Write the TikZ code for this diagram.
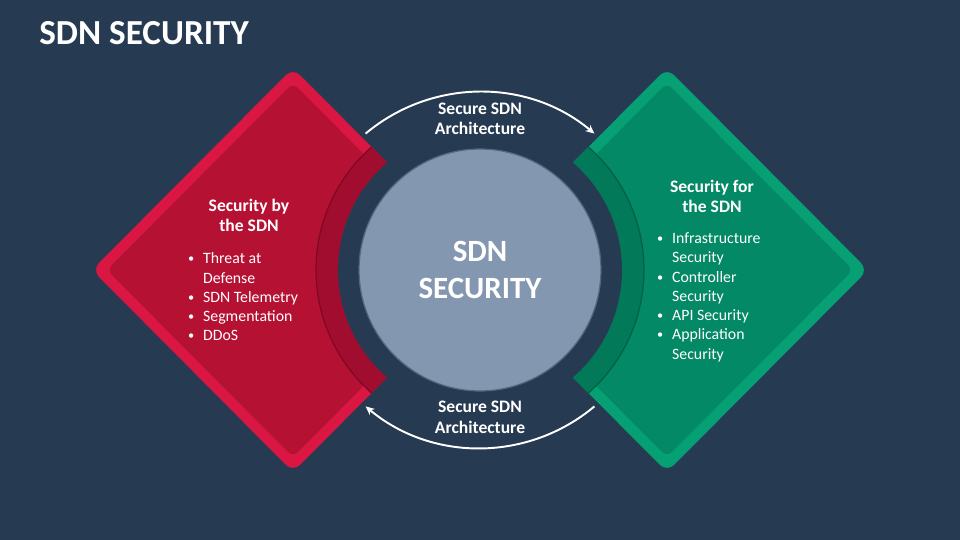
\documentclass[tikz,border=0pt]{standalone}
\usepackage{fontspec}
\setmainfont{Carlito}
\usetikzlibrary{arrows.meta}
\definecolor{bg}{RGB}{38,58,82}
\definecolor{circfill}{RGB}{132,151,176}
\definecolor{circline}{RGB}{86,101,122}
\definecolor{redrim}{RGB}{218,22,66}
\definecolor{redin}{RGB}{181,17,51}
\definecolor{redband}{RGB}{161,13,47}
\definecolor{redshade}{RGB}{128,8,36}
\definecolor{greenrim}{RGB}{6,160,116}
\definecolor{greenin}{RGB}{3,137,101}
\definecolor{greenband}{RGB}{2,121,88}
\definecolor{greenshade}{RGB}{1,96,70}
\newcommand{\mybul}{\makebox[9pt][l]{\hspace{0.5pt}\raisebox{0.6pt}{\fontsize{7}{7}\selectfont\textbullet}}}
\newcommand{\myind}{\hspace*{9pt}}
\tikzset{
  arr/.style={draw=white, line width=1.1pt, -{Stealth[length=5pt,width=4.5pt]}},
  lbl/.style={text=white, align=center, inner sep=0pt, font=\fontsize{10}{11.7}\selectfont\bfseries},
  head/.style={text=white, align=center, inner sep=0pt, font=\fontsize{10}{11.6}\selectfont\bfseries},
  blist/.style={text=white, align=left, inner sep=0pt, anchor=north west, font=\fontsize{9}{10.95}\selectfont},
}
\begin{document}
\begin{tikzpicture}[x=0.02cm,y=-0.02cm]
\fill[bg] (0,0) rectangle (960,540);
\useasboundingbox (0,0) rectangle (960,540);
\coordinate (c) at (480,270);

% red shape (left)
\begin{scope}
  \path[clip, rounded corners=0.2cm] (92,270)--(293,68)--(494,270)--(293,472)--cycle;
  \fill[redrim] (0,0) rectangle (960,540);
  \fill[redin, rounded corners=0.14cm] (107,270)--(293,83)--(479,270)--(293,457)--cycle;
  \fill[redband, even odd rule] (c) circle[radius=3.28cm] (c) circle[radius=2.84cm];
  \draw[redshade, line width=0.7pt] (c) circle[radius=3.28cm];
\end{scope}

% green shape (right), mirror image
\begin{scope}[shift={(960,0)}, xscale=-1]
  \path[clip, rounded corners=0.2cm] (92,270)--(293,68)--(494,270)--(293,472)--cycle;
  \fill[greenrim] (0,0) rectangle (960,540);
  \fill[greenin, rounded corners=0.14cm] (107,270)--(293,83)--(479,270)--(293,457)--cycle;
  \fill[greenband, even odd rule] (480,270) circle[radius=3.28cm] (480,270) circle[radius=2.84cm];
  \draw[greenshade, line width=0.7pt] (480,270) circle[radius=3.28cm];
\end{scope}

% gap around the core
\fill[bg] (c) circle[radius=2.84cm];

% core circle
\node[circle, fill=circfill, draw=circline, line width=0.7pt, minimum size=4.84cm, inner sep=0pt] (core) at (c) {};
\node[text=white, align=center, inner sep=0pt, font=\fontsize{17.6}{21}\selectfont\bfseries] (coretext) at (480,270) {SDN\\SECURITY};

% title
\node[anchor=base west, text=white, inner sep=0pt, font=\fontsize{20}{22}\selectfont\bfseries] (title) at (39,45) {SDN SECURITY};

% arrows
\coordinate (tl) at (365.6,133.6);
\coordinate (br) at (594.4,406.4);
\draw[arr] (tl) arc[start angle=130, end angle=50, radius=3.56cm] coordinate (tr);
\draw[arr] (br) arc[start angle=-50, end angle=-130, radius=3.56cm] coordinate (bl);

\node[lbl] (toplbl) at (480,119) {Secure SDN\\Architecture};
\node[lbl] (botlbl) at (480,417.5) {Secure SDN\\Architecture};

% left text
\node[head] (lhead) at (249,215.5) {Security by\\the SDN};
\node[blist] (llist) at (187,252.5) {\mybul Threat at\\\myind Defense\\\mybul SDN Telemetry\\\mybul Segmentation\\\mybul DDoS};

% right text
\node[head] (rhead) at (712,196.5) {Security for\\the SDN};
\node[blist] (rlist) at (656,232.5) {\mybul Infrastructure\\\myind Security\\\mybul Controller\\\myind Security\\\mybul API Security\\\mybul Application\\\myind Security};
\end{tikzpicture}
\end{document}
